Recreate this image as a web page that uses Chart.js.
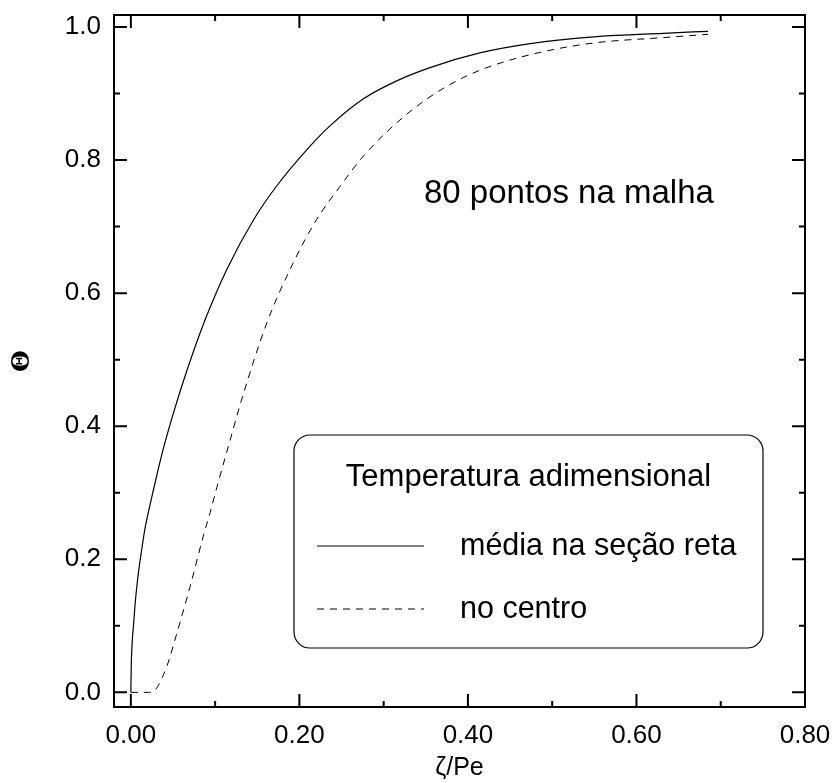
<!DOCTYPE html>
<html>
<head>
<meta charset="utf-8">
<script src="https://cdn.jsdelivr.net/npm/chart.js@4.4.1/dist/chart.umd.min.js"></script>
<style>
  html, body { margin: 0; padding: 0; background: #fff; }
  canvas { display: block; }
</style>
</head>
<body>
<canvas id="thetaChart" width="835" height="783"></canvas>
<script>
// média na seção reta
const mediaX = [0, 0.0005, 0.001, 0.002, 0.0031, 0.005, 0.007, 0.009, 0.012, 0.017, 0.021, 0.026, 0.033,
  0.0387, 0.0506, 0.0624, 0.075, 0.09, 0.114, 0.1455, 0.173, 0.2127, 0.236, 0.276, 0.3155, 0.355,
  0.414, 0.474, 0.553, 0.632, 0.685];
const mediaY = [0, 0.042, 0.06, 0.084, 0.1, 0.132, 0.158, 0.18, 0.207, 0.248, 0.272, 0.30, 0.338,
  0.367, 0.42, 0.468, 0.515, 0.566, 0.636, 0.71, 0.761, 0.821, 0.851, 0.892, 0.919, 0.939,
  0.961, 0.975, 0.9855, 0.9905, 0.9935];

// no centro
const centroX = [0, 0.021, 0.0268, 0.031, 0.0348, 0.0427, 0.0546, 0.0703, 0.086, 0.094, 0.102, 0.118, 0.131,
  0.1613, 0.1929, 0.2206, 0.248, 0.276, 0.3155, 0.355, 0.3945, 0.434, 0.4935, 0.553, 0.632, 0.685];
const centroY = [0, 0, 0.0015, 0.007, 0.016, 0.039, 0.089, 0.159, 0.235, 0.27, 0.308, 0.38, 0.438,
  0.555, 0.646, 0.711, 0.76, 0.806, 0.856, 0.895, 0.924, 0.944, 0.964, 0.9765, 0.984, 0.989];

const xTicks = [0, 0.2, 0.4, 0.6, 0.8];
const xMinorTicks = [0.1, 0.3, 0.5, 0.7];
const yTicks = [0, 0.2, 0.4, 0.6, 0.8, 1.0];
const yMinorTicks = [0.1, 0.3, 0.5, 0.7, 0.9];

const legendTitle = 'Temperatura adimensional';
const noteText = '80 pontos na malha';

const FONT = '"Liberation Sans", Arial, sans-serif';
Chart.defaults.color = '#000';
Chart.defaults.font.family = FONT;

function toPoints(xs, ys) {
  return xs.map((x, i) => ({ x: x, y: ys[i] }));
}

// frame with inward ticks on all four sides, legend box and the mesh note
const framePlugin = {
  id: 'frame',
  afterDraw(chart) {
    const ctx = chart.ctx;
    const area = chart.chartArea;
    const sx = chart.scales.x, sy = chart.scales.y;

    ctx.save();
    ctx.strokeStyle = '#000';
    ctx.lineWidth = 2;
    ctx.strokeRect(area.left, area.top, area.right - area.left, area.bottom - area.top);

    const marks = (values, len) => {
      values.forEach(v => {
        const p = sx.getPixelForValue(v);
        ctx.moveTo(p, area.bottom); ctx.lineTo(p, area.bottom - len);
        ctx.moveTo(p, area.top); ctx.lineTo(p, area.top + len);
      });
    };
    const marksY = (values, len) => {
      values.forEach(v => {
        const p = sy.getPixelForValue(v);
        ctx.moveTo(area.left, p); ctx.lineTo(area.left + len, p);
        ctx.moveTo(area.right, p); ctx.lineTo(area.right - len, p);
      });
    };
    ctx.beginPath();
    marks(xTicks, 13);
    marks(xMinorTicks, 6);
    marksY(yTicks, 13);
    marksY(yMinorTicks, 6);
    ctx.stroke();

    // note inside the plot
    ctx.fillStyle = '#000';
    ctx.font = '33px ' + FONT;
    ctx.textAlign = 'left';
    ctx.textBaseline = 'middle';
    ctx.fillText(noteText, 424, 194);

    // legend box
    const bx = 294, by = 435, bw = 469, bh = 213;
    ctx.lineWidth = 1.2;
    ctx.beginPath();
    ctx.roundRect(bx, by, bw, bh, 16);
    ctx.fillStyle = '#fff';
    ctx.fill();
    ctx.stroke();

    ctx.fillStyle = '#000';
    ctx.font = '31px ' + FONT;
    ctx.textAlign = 'center';
    ctx.fillText(legendTitle, bx + bw / 2, 477);

    ctx.font = '30.5px ' + FONT;
    ctx.textAlign = 'left';
    const rows = [546, 609];
    chart.data.datasets.forEach((ds, i) => {
      const yy = rows[i];
      ctx.beginPath();
      ctx.lineWidth = ds.borderWidth;
      ctx.setLineDash(ds.borderDash || []);
      ctx.moveTo(317, yy);
      ctx.lineTo(424, yy);
      ctx.stroke();
      ctx.setLineDash([]);
      ctx.fillText(ds.label, 460, yy + 1);
    });
    ctx.restore();
  }
};

new Chart(document.getElementById('thetaChart'), {
  type: 'scatter',
  data: {
    datasets: [
      {
        label: 'média na seção reta',
        data: toPoints(mediaX, mediaY),
        showLine: true,
        borderColor: '#000',
        borderWidth: 1.2,
        pointRadius: 0,
        cubicInterpolationMode: 'monotone'
      },
      {
        label: 'no centro',
        data: toPoints(centroX, centroY),
        showLine: true,
        borderColor: '#000',
        borderWidth: 1,
        borderDash: [7, 6],
        pointRadius: 0,
        cubicInterpolationMode: 'monotone'
      }
    ]
  },
  options: {
    responsive: false,
    animation: false,
    devicePixelRatio: 1,
    layout: { padding: { left: 0, right: 30, top: 15, bottom: 0 } },
    plugins: {
      legend: { display: false },
      tooltip: { enabled: false }
    },
    scales: {
      x: {
        type: 'linear',
        min: -0.02,
        max: 0.8,
        grid: { display: false, drawTicks: false },
        border: { display: false },
        afterBuildTicks: s => { s.ticks = xTicks.map(v => ({ value: v })); },
        afterFit: s => { s.height = 76; s.paddingLeft = 0; s.paddingRight = 0; },
        ticks: {
          padding: 13,
          maxRotation: 0,
          font: { size: 26 },
          callback: v => v.toFixed(2)
        },
        title: {
          display: true,
          text: 'ζ/Pe',
          font: { size: 25, lineHeight: 1 },
          padding: { top: 0, bottom: 2 }
        }
      },
      y: {
        type: 'linear',
        min: -0.022,
        max: 1.018,
        grid: { display: false, drawTicks: false },
        border: { display: false },
        afterBuildTicks: s => { s.ticks = yTicks.map(v => ({ value: v })); },
        afterFit: s => { s.width = 114; s.paddingTop = 0; s.paddingBottom = 0; },
        ticks: {
          padding: 13,
          font: { size: 26 },
          callback: v => v.toFixed(1)
        },
        title: {
          display: true,
          text: 'Θ',
          font: { size: 25, weight: 'bold', family: '"DejaVu Serif", serif', lineHeight: 1 },
          padding: { top: 10, bottom: 0 }
        }
      }
    }
  },
  plugins: [framePlugin]
});
</script>
</body>
</html>
